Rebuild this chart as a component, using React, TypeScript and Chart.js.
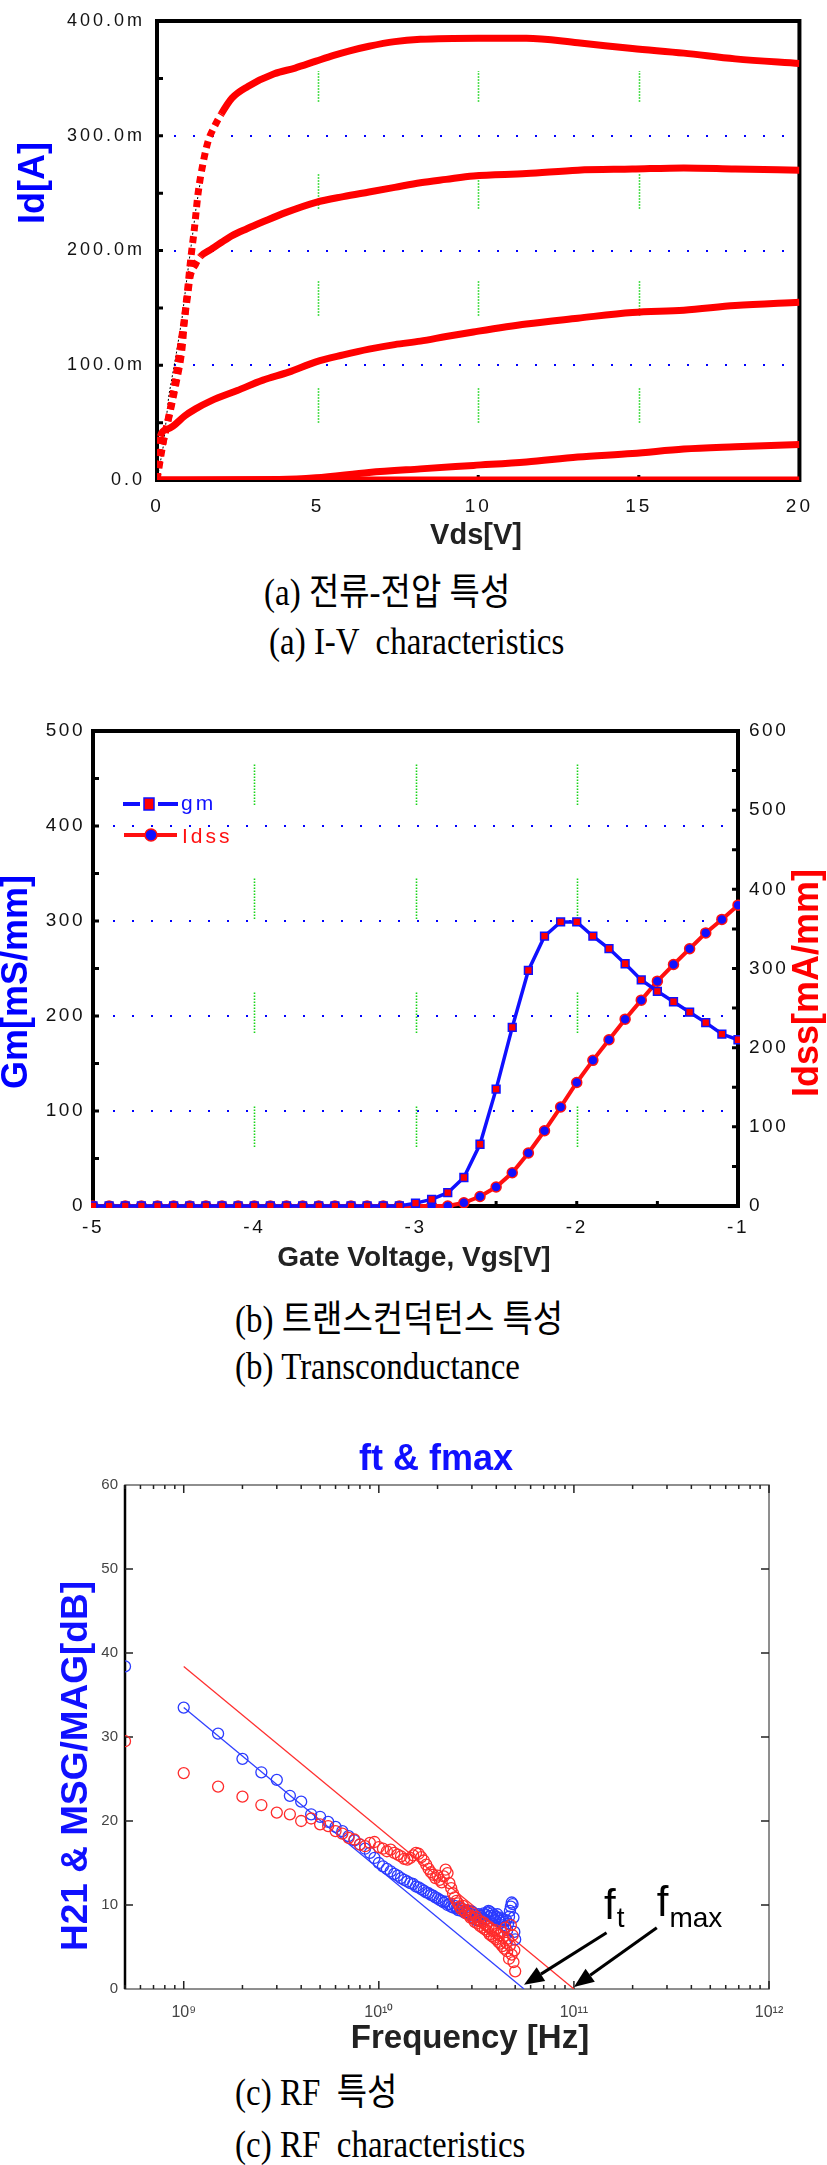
import React, { useEffect, useRef } from "react";
import { Chart, registerables } from "chart.js";

Chart.register(...registerables);

const SANS = "'Liberation Sans', Arial, Helvetica, sans-serif";
const SERIF = "'Liberation Serif', 'Times New Roman', 'Noto Sans CJK KR', serif";

// ---------------- (a) I-V characteristics: Vds [V] / Id [mA] ----------------
const ivVdsA = [0, 0.05, 0.2, 0.38, 0.59, 0.78, 0.87, 0.95, 1.06, 1.16, 1.28, 1.44, 1.6, 1.77, 2.0, 2.34, 2.83, 3.65, 4.3, 4.95, 5.5, 6.0, 6.6, 7.4, 8.2, 10, 11.5, 13.1, 14.8, 16.4, 18, 20];
const ivIdA = [0, 14, 34, 56, 84, 115, 144, 165, 195, 218, 250, 277, 296, 307, 319, 333, 343, 354, 359, 365, 370, 374, 378, 382, 384, 385, 385, 381, 376, 372, 367, 363];
const ivVdsB = [0, 0.2, 0.4, 0.6, 0.8, 0.95, 1.03, 1.2, 1.36, 1.68, 2.0, 2.34, 2.8, 3.3, 4.0, 4.95, 5.8, 6.6, 7.4, 8.2, 9.0, 9.85, 11.5, 13.1, 14.8, 16.4, 18, 20];
const ivIdB = [0, 34, 60, 92, 130, 160, 177, 188, 195, 201, 207, 213, 219, 225, 233, 242, 247, 251, 255, 259, 262, 265, 267, 270, 271, 272, 271, 270];
const ivVdsC = [0, 0.05, 0.1, 0.3, 0.5, 0.87, 1.2, 1.68, 2.5, 3.3, 4.1, 4.95, 5.8, 6.6, 7.4, 8.2, 9.0, 9.85, 11.5, 13.1, 14.8, 16.4, 18, 20];
const ivIdC = [0, 20, 38, 44, 47, 56, 62, 69, 78, 87, 94, 103, 109, 114, 118, 121, 125, 129, 136, 141, 146, 148, 152, 155];
const ivVdsD = [0, 3.8, 4.95, 6.6, 8.2, 9.85, 11.5, 13.1, 14.8, 16.4, 18, 20];
const ivIdD = [0, 0.5, 2, 6.6, 9.7, 12.7, 15.7, 20, 23, 27, 29, 31];
const ivVdsE = [0, 20];
const ivIdE = [0, 0];
const ivKneeVds = [0, 0.2, 0.37, 0.6, 0.78, 0.94, 1.1, 1.22, 1.35];
const ivKneeId = [0, 30, 74, 110, 141, 178, 212, 238, 260];

// ---------------- (b) Transconductance ----------------
const gateV = [-5, -4.9, -4.8, -4.7, -4.6, -4.5, -4.4, -4.3, -4.2, -4.1, -4, -3.9, -3.8, -3.7, -3.6, -3.5, -3.4, -3.3, -3.2, -3.1, -3, -2.9, -2.8, -2.7, -2.6, -2.5, -2.4, -2.3, -2.2, -2.1, -2, -1.9, -1.8, -1.7, -1.6, -1.5, -1.4, -1.3, -1.2, -1.1, -1];
const gmVals = [0, 0, 0, 0, 0, 0, 0, 0, 0, 0, 0, 0, 0, 0, 0, 0, 0, 0, 0, 0, 3, 7, 14, 30, 65, 123, 188, 248, 284, 299, 299, 284, 271, 255, 238, 226, 215, 204, 193, 181, 175];
const idssVals = [0, 0, 0, 0, 0, 0, 0, 0, 0, 0, 0, 0, 0, 0, 0, 0, 0, 0, 0, 0, 0, 0, 0, 4, 12, 24, 42, 67, 95, 125, 156, 184, 210, 236, 260, 284, 305, 325, 345, 362, 380];

// ---------------- (c) RF characteristics ----------------
const rfFreqGHz = [0.5, 1, 1.5, 2, 2.5, 3, 3.5, 4, 4.5, 5, 5.5, 6, 6.5, 7, 7.5, 8, 8.5, 9, 9.5, 10, 10.5, 11, 11.5, 12, 12.5, 13, 13.5, 14, 14.5, 15, 15.5, 16, 16.5, 17, 17.5, 18, 18.5, 19, 19.5, 20, 20.5, 21, 21.5, 22, 22.5, 23, 23.5, 24, 24.5, 25, 25.5, 26, 26.5, 27, 27.5, 28, 28.5, 29, 29.5, 30, 30.5, 31, 31.5, 32, 32.5, 33, 33.5, 34, 34.5, 35, 35.5, 36, 36.5, 37, 37.5, 38, 38.5, 39, 39.5, 40, 40.5, 41, 41.5, 42, 42.5, 43, 43.5, 44, 44.5, 45, 45.5, 46, 46.5, 47, 47.5, 48, 48.5, 49, 49.5, 50];
const rfH21 = [38.4, 33.5, 30.4, 27.4, 25.8, 24.9, 23.0, 22.3, 20.8, 20.5, 19.9, 19.3, 18.8, 18.2, 17.7, 17.2, 16.7, 16.2, 15.6, 15.0, 14.6, 14.3, 14.0, 13.7, 13.5, 13.2, 13.0, 12.8, 12.6, 12.5, 12.2, 12.1, 11.9, 11.7, 11.5, 11.4, 11.2, 11.1, 10.9, 10.8, 10.6, 10.5, 10.3, 10.4, 10.0, 10.1, 9.8, 9.7, 9.9, 9.6, 9.4, 9.7, 9.3, 9.5, 9.1, 9.4, 9.0, 9.3, 8.9, 9.2, 8.4, 8.8, 8.2, 8.6, 8.9, 8.1, 8.7, 8.4, 9.0, 8.3, 8.8, 9.1, 9.3, 9.2, 8.7, 9.0, 8.5, 8.8, 8.2, 8.6, 8.9, 8.4, 8.1, 8.5, 7.9, 8.3, 7.6, 8.0, 7.4, 8.2, 7.0, 7.8, 8.6, 9.3, 9.8, 10.3, 10.1, 8.5, 6.8, 5.9];
const rfMag = [29.5, 25.7, 24.1, 22.9, 21.9, 21.0, 20.8, 20.0, 20.3, 19.6, 19.4, 18.8, 18.5, 18.0, 17.8, 17.2, 17.0, 17.4, 17.5, 16.9, 16.7, 16.4, 16.6, 16.2, 16.0, 15.8, 15.5, 15.4, 15.6, 15.9, 16.2, 16.1, 15.7, 15.3, 14.8, 14.3, 13.9, 13.6, 13.2, 13.5, 13.0, 12.7, 13.4, 14.2, 13.8, 12.6, 12.0, 11.4, 10.9, 10.5, 10.2, 9.8, 9.5, 9.9, 9.3, 9.0, 9.4, 8.8, 8.5, 9.1, 8.4, 8.0, 8.6, 7.8, 8.2, 7.5, 8.0, 7.3, 7.9, 7.1, 7.6, 6.9, 7.4, 6.5, 7.2, 6.3, 6.9, 6.1, 7.0, 5.9, 6.6, 5.6, 6.4, 5.4, 6.8, 5.1, 6.2, 4.8, 7.3, 5.5, 4.5, 6.0, 3.6, 5.2, 7.6, 4.1, 6.4, 3.2, 4.6, 2.1];
const rfH21FitHz = [1e9, 5.55e10];
const rfH21FitDb = [33.5, 0];
const rfMagFitHz = [1e9, 1e11];
const rfMagFitDb = [38.4, 0];
const rfDecades = [1e9, 1e10, 1e11, 1e12];
const rfDecadeLabels = ["10\u2079", "10\u00B9\u2070", "10\u00B9\u00B9", "10\u00B9\u00B2"];
const ftArrow = { tail: [1.47e11, 6.7], tip: [5.55e10, 0.5] };
const fmaxArrow = { tail: [2.66e11, 7.3], tip: [1.0e11, 0.25] };

// ---------------- helpers ----------------
const pts = (xs: number[], ys: number[]) => xs.map((x, i) => ({ x, y: ys[i] }));
const steps = (a: number, b: number, s: number) => {
  const out: number[] = [];
  for (let v = a; v <= b + 1e-9; v += s) out.push(Math.round(v * 1000) / 1000);
  return out;
};

function label(ctx: any, str: string, x: number, y: number, font: string, color: string, rot = 0, align = "center", baseline = "middle") {
  ctx.save();
  ctx.letterSpacing = "0px";
  ctx.translate(x, y);
  if (rot) ctx.rotate(rot);
  ctx.font = font;
  ctx.fillStyle = color;
  ctx.textAlign = align;
  ctx.textBaseline = baseline;
  ctx.fillText(str, 0, 0);
  ctx.restore();
}

function dottedH(ctx: any, ys: any, values: number[], x0: number, x1: number) {
  ctx.save();
  ctx.strokeStyle = "#0000ff";
  ctx.lineWidth = 2;
  ctx.setLineDash([2, 17]);
  for (const v of values) {
    const y = Math.round(ys.getPixelForValue(v));
    ctx.beginPath();
    ctx.moveTo(x0, y);
    ctx.lineTo(x1, y);
    ctx.stroke();
  }
  ctx.restore();
}

function greenV(ctx: any, xs: any, values: number[], yBottom: number, yTop: number, dash: number, gap: number) {
  const pat: number[] = [];
  const n = Math.round(dash / 3);
  for (let i = 0; i < n; i++) pat.push(1.5, 1.5);
  pat[pat.length - 1] += gap;
  ctx.save();
  ctx.strokeStyle = "#18d418";
  ctx.lineWidth = 1.6;
  ctx.setLineDash(pat);
  for (const v of values) {
    const x = Math.round(xs.getPixelForValue(v)) + 0.5;
    ctx.beginPath();
    ctx.moveTo(x, yBottom);
    ctx.lineTo(x, yTop);
    ctx.stroke();
  }
  ctx.restore();
}

function frame(ctx: any, a: any, w: number) {
  ctx.save();
  ctx.strokeStyle = "#000";
  ctx.lineWidth = w;
  ctx.setLineDash([]);
  ctx.strokeRect(a.left, a.top, a.right - a.left, a.bottom - a.top);
  ctx.restore();
}

function inTicks(ctx: any, scale: any, values: number[], side: string, len: number | ((v: number) => number), width: number, color = "#000") {
  const a = scale.chart.chartArea;
  ctx.save();
  ctx.strokeStyle = color;
  ctx.lineWidth = width;
  ctx.setLineDash([]);
  ctx.beginPath();
  for (const v of values) {
    const p = scale.getPixelForValue(v);
    const L = typeof len === "function" ? len(v) : len;
    if (side === "left") { ctx.moveTo(a.left, p); ctx.lineTo(a.left + L, p); }
    else if (side === "right") { ctx.moveTo(a.right, p); ctx.lineTo(a.right - L, p); }
    else if (side === "bottom") { ctx.moveTo(p, a.bottom); ctx.lineTo(p, a.bottom - L); }
    else { ctx.moveTo(p, a.top); ctx.lineTo(p, a.top + L); }
  }
  ctx.stroke();
  ctx.restore();
}

function arrow(ctx: any, x0: number, y0: number, x1: number, y1: number) {
  const ang = Math.atan2(y1 - y0, x1 - x0);
  const L = 20, W = 8;
  const bx = x1 - L * Math.cos(ang), by = y1 - L * Math.sin(ang);
  ctx.save();
  ctx.strokeStyle = "#000";
  ctx.fillStyle = "#000";
  ctx.lineWidth = 3;
  ctx.beginPath();
  ctx.moveTo(x0, y0);
  ctx.lineTo(bx, by);
  ctx.stroke();
  ctx.beginPath();
  ctx.moveTo(x1, y1);
  ctx.lineTo(bx + W * Math.sin(ang), by - W * Math.cos(ang));
  ctx.lineTo(bx - W * Math.sin(ang), by + W * Math.cos(ang));
  ctx.closePath();
  ctx.fill();
  ctx.restore();
}

function subLabel(ctx: any, main: string, sub: string, x: number, y: number, subDy: number) {
  ctx.save();
  ctx.letterSpacing = "0px";
  ctx.fillStyle = "#000";
  ctx.textAlign = "left";
  ctx.textBaseline = "alphabetic";
  ctx.font = `42px ${SANS}`;
  ctx.fillText(main, x, y);
  const w = ctx.measureText(main).width;
  ctx.font = `28px ${SANS}`;
  ctx.fillText(sub, x + w + 1, y + subDy);
  ctx.restore();
}

const steepDash = (c: any) =>
  Math.abs(c.p1.y - c.p0.y) > 1.5 * Math.abs(c.p1.x - c.p0.x) ? [7, 5] : undefined;

const baseOpts = {
  responsive: false,
  maintainAspectRatio: false,
  animation: false,
  events: [],
};

// ---------------- chart configs ----------------
function ivConfig(): any {
  const red = (xs: number[], ys: number[], label: string) => ({
    label,
    data: pts(xs, ys),
    borderColor: "#ff0000",
    backgroundColor: "#ff0000",
    borderWidth: 7,
    pointRadius: 0,
    cubicInterpolationMode: "monotone",
    segment: { borderDash: steepDash },
    order: 1,
  });
  return {
    type: "line",
    data: {
      datasets: [
        red(ivVdsA, ivIdA, "Vgs1"),
        red(ivVdsB, ivIdB, "Vgs2"),
        red(ivVdsC, ivIdC, "Vgs3"),
        red(ivVdsD, ivIdD, "Vgs4"),
        red(ivVdsE, ivIdE, "Vgs5"),
        { label: "knee", data: pts(ivKneeVds, ivKneeId), borderColor: "#000", borderWidth: 1, borderDash: [2, 2], pointRadius: 0, order: 5 },
      ],
    },
    options: {
      ...baseOpts,
      layout: { padding: { top: 10, right: 27, left: 0, bottom: 0 }, autoPadding: false },
      plugins: { legend: { display: false }, tooltip: { enabled: false } },
      scales: {
        x: {
          type: "linear", min: 0, max: 20,
          grid: { display: false, drawTicks: false }, border: { display: false },
          ticks: { stepSize: 5, autoSkip: false, maxRotation: 0, padding: 17, color: "#111", font: { family: SANS, size: 19, lineHeight: 1 } },
          afterFit: (s: any) => { s.height = 80; },
        },
        y: {
          type: "linear", min: 0, max: 400,
          grid: { display: false, drawTicks: false }, border: { display: false },
          ticks: {
            stepSize: 100, autoSkip: false, padding: 12, color: "#111", font: { family: SANS, size: 18, lineHeight: 1 },
            callback: (v: any) => (Number(v) === 0 ? "0.0" : `${Number(v).toFixed(1)}m`),
          },
          afterFit: (s: any) => { s.width = 157; },
        },
      },
    },
    plugins: [
      {
        id: "ivDeco",
        beforeDraw(chart: any) { chart.ctx.letterSpacing = "3px"; },
        beforeDatasetsDraw(chart: any) {
          const ctx = chart.ctx;
          ctx.letterSpacing = "0px";
          const a = chart.chartArea, xs = chart.scales.x, ys = chart.scales.y;
          dottedH(ctx, ys, [100, 200, 300], a.left + 17, a.right - 15);
          greenV(ctx, xs, [5, 10, 15], ys.getPixelForValue(50), a.top + 50, 36, 71);
          frame(ctx, a, 4);
          inTicks(ctx, ys, steps(0, 400, 50), "left", 6, 3);
          inTicks(ctx, xs, [5, 10, 15], "bottom", 5, 3);
        },
        afterDatasetsDraw(chart: any) {
          const ctx = chart.ctx;
          label(ctx, "Id[A]", 34, 183, `bold 36px ${SANS}`, "#0000ff", -Math.PI / 2);
          label(ctx, "Vds[V]", 476, 536, `bold 29px ${SANS}`, "#222");
        },
      },
    ],
  };
}

function gmConfig(): any {
  return {
    type: "line",
    data: {
      datasets: [
        {
          label: "gm", data: pts(gateV, gmVals), yAxisID: "y",
          borderColor: "#1010ff", borderWidth: 3.5, pointStyle: "rect", pointRadius: 5.5,
          pointBackgroundColor: "#ff0000", pointBorderColor: "#1010ff", pointBorderWidth: 1.5, clip: 2,
        },
        {
          label: "Idss", data: pts(gateV, idssVals), yAxisID: "y2",
          borderColor: "#ff1010", borderWidth: 4, pointStyle: "circle", pointRadius: 5,
          pointBackgroundColor: "#1010ff", pointBorderColor: "#ff1010", pointBorderWidth: 1.5, clip: 2,
        },
      ],
    },
    options: {
      ...baseOpts,
      layout: { padding: { top: 41, right: 0, left: 0, bottom: 0 }, autoPadding: false },
      plugins: { legend: { display: false }, tooltip: { enabled: false } },
      scales: {
        x: {
          type: "linear", min: -5, max: -1,
          grid: { display: false, drawTicks: false }, border: { display: false },
          ticks: { stepSize: 1, autoSkip: false, maxRotation: 0, padding: 12, color: "#111", font: { family: SANS, size: 19, lineHeight: 1 } },
          afterFit: (s: any) => { s.height = 84; },
        },
        y: {
          type: "linear", position: "left", min: 0, max: 500,
          grid: { display: false, drawTicks: false }, border: { display: false },
          ticks: { stepSize: 100, autoSkip: false, padding: 8, color: "#111", font: { family: SANS, size: 19, lineHeight: 1 } },
          afterFit: (s: any) => { s.width = 93; },
        },
        y2: {
          type: "linear", position: "right", min: 0, max: 600,
          grid: { display: false, drawTicks: false }, border: { display: false },
          ticks: { stepSize: 100, autoSkip: false, padding: 11, color: "#111", font: { family: SANS, size: 19, lineHeight: 1 } },
          afterFit: (s: any) => { s.width = 89; },
        },
      },
    },
    plugins: [
      {
        id: "gmDeco",
        beforeDraw(chart: any) { chart.ctx.letterSpacing = "2.5px"; },
        beforeDatasetsDraw(chart: any) {
          const ctx = chart.ctx;
          ctx.letterSpacing = "0px";
          const a = chart.chartArea, xs = chart.scales.x, ys = chart.scales.y, y2 = chart.scales.y2;
          dottedH(ctx, ys, [100, 200, 300, 400], a.left + 20, a.right - 8);
          greenV(ctx, xs, [-4, -3, -2], ys.getPixelForValue(62), a.top + 30, 41, 72);
          frame(ctx, a, 4);
          inTicks(ctx, ys, steps(0, 500, 50), "left", 6, 3);
          inTicks(ctx, y2, steps(0, 600, 50), "right", 6, 3);
          inTicks(ctx, xs, steps(-5, -1, 0.5), "bottom", 5, 3);
        },
        afterDatasetsDraw(chart: any) {
          const ctx = chart.ctx;
          const a = chart.chartArea;
          // legend
          const ly1 = a.top + 73, ly2 = a.top + 104, lx = a.left + 30;
          ctx.save();
          ctx.setLineDash([]);
          ctx.lineWidth = 4;
          ctx.strokeStyle = "#1010ff";
          ctx.beginPath();
          ctx.moveTo(lx, ly1); ctx.lineTo(lx + 17, ly1);
          ctx.moveTo(lx + 35, ly1); ctx.lineTo(lx + 55, ly1);
          ctx.stroke();
          ctx.fillStyle = "#ff0000";
          ctx.fillRect(lx + 21, ly1 - 6, 10, 12);
          ctx.lineWidth = 1.5;
          ctx.strokeRect(lx + 21, ly1 - 6, 10, 12);
          ctx.strokeStyle = "#ff1010";
          ctx.lineWidth = 4;
          ctx.beginPath();
          ctx.moveTo(lx + 1, ly2); ctx.lineTo(lx + 54, ly2);
          ctx.stroke();
          ctx.beginPath();
          ctx.arc(lx + 28, ly2, 6, 0, Math.PI * 2);
          ctx.fillStyle = "#1010ff";
          ctx.fill();
          ctx.lineWidth = 1.5;
          ctx.stroke();
          ctx.font = `21px ${SANS}`;
          ctx.textBaseline = "alphabetic";
          ctx.textAlign = "left";
          ctx.letterSpacing = "3px";
          ctx.fillStyle = "#1010ff";
          ctx.fillText("gm", lx + 58, ly1 + 6);
          ctx.fillStyle = "#ff1010";
          ctx.fillText("Idss", lx + 59, ly2 + 8);
          ctx.restore();
          label(ctx, "Gm[mS/mm]", 17, 292, `bold 36px ${SANS}`, "#0000ff", -Math.PI / 2);
          label(ctx, "Idss[mA/mm]", 808, 293, `bold 36px ${SANS}`, "#ff0000", -Math.PI / 2);
          label(ctx, "Gate Voltage, Vgs[V]", 414, 568, `bold 28px ${SANS}`, "#222");
        },
      },
    ],
  };
}

function rfConfig(): any {
  const hz = rfFreqGHz.map((f) => f * 1e9);
  return {
    type: "line",
    data: {
      datasets: [
        { label: "H21 fit", data: pts(rfH21FitHz, rfH21FitDb), borderColor: "#3040ff", borderWidth: 1.3, pointRadius: 0, order: 4 },
        { label: "MSG/MAG fit", data: pts(rfMagFitHz, rfMagFitDb), borderColor: "#ff3030", borderWidth: 1.3, pointRadius: 0, order: 3 },
        {
          label: "H21", data: pts(hz, rfH21), showLine: false, pointStyle: "circle", pointRadius: 5.5,
          pointBorderColor: "#2b3bff", pointBackgroundColor: "rgba(0,0,0,0)", pointBorderWidth: 1.3, order: 2,
        },
        {
          label: "MSG/MAG", data: pts(hz, rfMag), showLine: false, pointStyle: "circle", pointRadius: 5.5,
          pointBorderColor: "#ff2b2b", pointBackgroundColor: "rgba(0,0,0,0)", pointBorderWidth: 1.3, order: 1,
        },
      ],
    },
    options: {
      ...baseOpts,
      layout: { padding: { top: 65, right: 58, left: 0, bottom: 0 }, autoPadding: false },
      plugins: { legend: { display: false }, tooltip: { enabled: false } },
      scales: {
        x: {
          type: "logarithmic", min: 5e8, max: 1e12,
          grid: { display: false, drawTicks: false }, border: { display: false },
          afterBuildTicks: (s: any) => { s.ticks = rfDecades.map((v) => ({ value: v })); },
          ticks: {
            autoSkip: false, maxRotation: 0, padding: 16, color: "#444", font: { family: SANS, size: 16, lineHeight: 1 },
            callback: (_v: any, i: number) => rfDecadeLabels[i],
          },
          afterFit: (s: any) => { s.height = 81; },
        },
        y: {
          type: "linear", min: 0, max: 60,
          grid: { display: false, drawTicks: false }, border: { display: false },
          ticks: { stepSize: 10, autoSkip: false, padding: 7, color: "#444", font: { family: SANS, size: 15, lineHeight: 1 } },
          afterFit: (s: any) => { s.width = 125; },
        },
      },
    },
    plugins: [
      {
        id: "rfDeco",
        beforeDatasetsDraw(chart: any) {
          const ctx = chart.ctx;
          const a = chart.chartArea, xs = chart.scales.x, ys = chart.scales.y;
          ctx.save();
          ctx.setLineDash([]);
          ctx.strokeStyle = "#6a6a6a";
          ctx.lineWidth = 1.5;
          ctx.strokeRect(a.left, a.top, a.right - a.left, a.bottom - a.top);
          ctx.strokeStyle = "#000";
          ctx.lineWidth = 2.5;
          ctx.beginPath();
          ctx.moveTo(a.left, a.top);
          ctx.lineTo(a.left, a.bottom);
          ctx.stroke();
          ctx.restore();
          const minor: number[] = [];
          for (const d of [1e8, 1e9, 1e10, 1e11]) for (let k = 1; k <= 9; k++) {
            const v = k * d;
            if (v >= 5e8 && v <= 1e12) minor.push(v);
          }
          minor.push(1e12);
          const lenFn = (v: number) => (rfDecades.includes(v) ? 8 : 4);
          inTicks(ctx, xs, minor, "bottom", lenFn, 1.5, "#222");
          inTicks(ctx, xs, minor, "top", lenFn, 1.5, "#222");
          inTicks(ctx, ys, [10, 20, 30, 40, 50], "left", 8, 1.5, "#222");
          inTicks(ctx, ys, [10, 20, 30, 40, 50], "right", 8, 1.5, "#222");
        },
        afterDatasetsDraw(chart: any) {
          const ctx = chart.ctx;
          const xs = chart.scales.x, ys = chart.scales.y;
          const P = (p: number[]) => [xs.getPixelForValue(p[0]), ys.getPixelForValue(p[1])];
          const [ftx0, fty0] = P(ftArrow.tail), [ftx1, fty1] = P(ftArrow.tip);
          const [fmx0, fmy0] = P(fmaxArrow.tail), [fmx1, fmy1] = P(fmaxArrow.tip);
          arrow(ctx, ftx0, fty0, ftx1, fty1);
          arrow(ctx, fmx0, fmy0, fmx1, fmy1);
          subLabel(ctx, "f", "t", ftx0 - 2.5, fty0 - 14, 8);
          subLabel(ctx, "f", "max", fmx0, fmy0 - 12, 11);
          label(ctx, "ft & fmax", 436, 50, `bold 36px ${SANS}`, "#1010ff", 0, "center", "alphabetic");
          label(ctx, "H21 & MSG/MAG[dB]", 76.5, 346, `bold 37px ${SANS}`, "#1010ff", -Math.PI / 2);
          label(ctx, "Frequency [Hz]", 470, 619, `bold 33px ${SANS}`, "#222");
        },
      },
    ],
  };
}

function Caption({ x, y, text }: { x: number; y: number; text: string }) {
  return (
    <div
      style={{
        position: "absolute",
        left: x,
        top: y - 22,
        fontFamily: SERIF,
        fontSize: 33,
        lineHeight: "40px",
        whiteSpace: "pre",
        color: "#000",
        transform: "scaleY(1.12)",
        transformOrigin: "0 50%",
      }}
    >
      {text}
    </div>
  );
}

export default function App() {
  const c1 = useRef<HTMLCanvasElement>(null);
  const c2 = useRef<HTMLCanvasElement>(null);
  const c3 = useRef<HTMLCanvasElement>(null);

  useEffect(() => {
    const charts = [
      new Chart(c1.current as HTMLCanvasElement, ivConfig()),
      new Chart(c2.current as HTMLCanvasElement, gmConfig()),
      new Chart(c3.current as HTMLCanvasElement, rfConfig()),
    ];
    return () => charts.forEach((c) => c.destroy());
  }, []);

  return (
    <div style={{ position: "absolute", left: 0, top: 0, width: 827, height: 2165, background: "#fff", overflow: "hidden" }}>
      <canvas ref={c1} width={827} height={560} style={{ position: "absolute", left: 0, top: 0 }} />
      <canvas ref={c2} width={827} height={600} style={{ position: "absolute", left: 0, top: 690 }} />
      <canvas ref={c3} width={827} height={650} style={{ position: "absolute", left: 0, top: 1420 }} />
      <Caption x={264} y={595} text="(a) 전류-전압 특성" />
      <Caption x={269} y={644} text="(a) I-V  characteristics" />
      <Caption x={235} y={1322} text="(b) 트랜스컨덕턴스 특성" />
      <Caption x={235} y={1369} text="(b) Transconductance" />
      <Caption x={235} y={2095} text="(c) RF  특성" />
      <Caption x={235} y={2147} text="(c) RF  characteristics" />
    </div>
  );
}
